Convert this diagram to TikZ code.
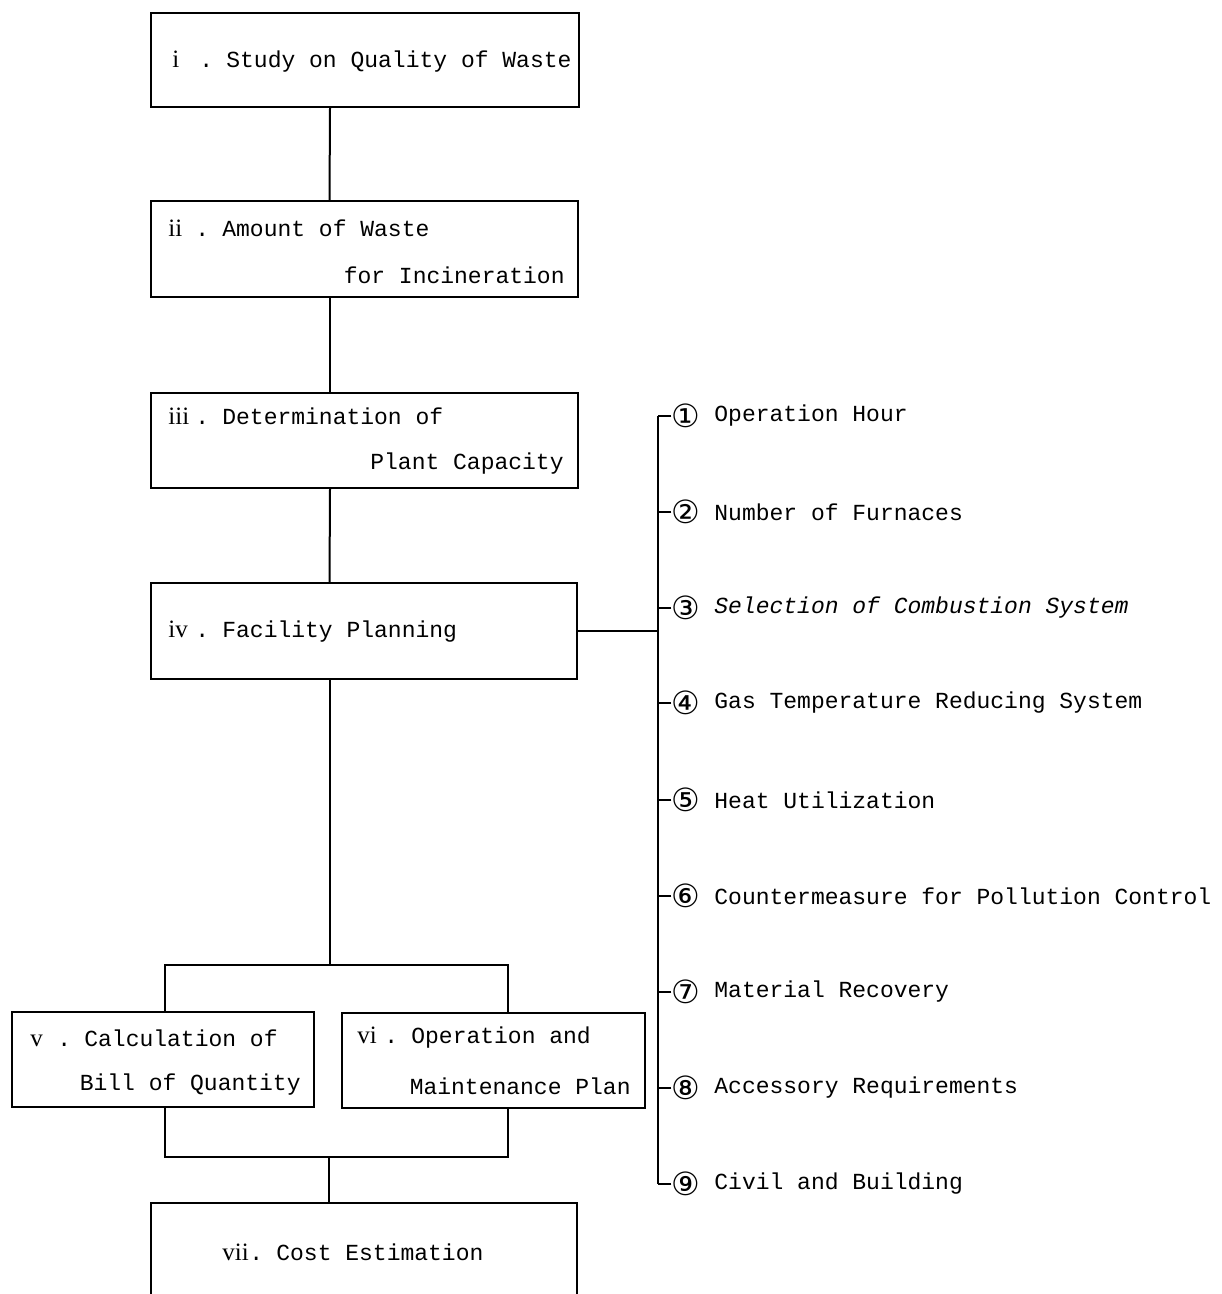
\documentclass[tikz,border=0pt]{standalone}
\usepackage{fontspec}
\newfontfamily\monof{Liberation Mono}
\newfontfamily\numf{Liberation Serif}
\newfontfamily\symf{DejaVu Sans}
\newcommand\rn[1]{\makebox[27pt][l]{\makebox[13.5pt][l]{\numf\fontsize{12.5}{13}\selectfont #1}.}}
\begin{document}
\begin{tikzpicture}[x=0.5pt,y=-0.5pt,
  box/.style={draw,line width=1pt,rectangle,inner sep=0pt},
  txt/.style={inner sep=0pt,font=\monof\fontsize{11.5}{13}\selectfont},
  circ/.style={inner sep=0pt,font=\symf\fontsize{16}{16}\selectfont},
  conn/.style={line width=1pt}]
\clip (0,0) rectangle (1221,1294);
\fill[white] (0,0) rectangle (1221,1294);
% boxes
\node[box,minimum width=214pt,minimum height=47pt] (b1) at (365,60) {};
\node[box,minimum width=213.5pt,minimum height=48pt] (b2) at (364.5,249) {};
\node[box,minimum width=213.5pt,minimum height=47.5pt] (b3) at (364.5,440.5) {};
\node[box,minimum width=213pt,minimum height=48pt] (b4) at (364,631) {};
\node[box,minimum width=151pt,minimum height=47.5pt] (b5) at (163,1059.5) {};
\node[box,minimum width=151.5pt,minimum height=47.5pt] (b6) at (493.5,1060.5) {};
\node[box,minimum width=213pt,minimum height=53.5pt] (b7) at (364,1256.5) {};
% texts
\node[txt,anchor=west] (t1) at (172,62) {\rn{i}Study on Quality of Waste};
\node[txt,anchor=west] (t2a) at (168,228) {\rn{ii}Amount of Waste};
\node[txt,anchor=east] (t2b) at (565,275) {for Incineration};
\node[txt,anchor=west] (t3a) at (168,416) {\rn{iii}Determination of};
\node[txt,anchor=east] (t3b) at (564,464) {Plant Capacity};
\node[txt,anchor=west] (t4) at (168,632) {\rn{iv}Facility Planning};
\node[txt,anchor=west] (t5a) at (30,1038) {\rn{v}Calculation of};
\node[txt,anchor=east] (t5b) at (301,1085) {Bill of Quantity};
\node[txt,anchor=west] (t6a) at (357,1038) {\rn{vi}Operation and};
\node[txt,anchor=east] (t6b) at (631,1086) {Maintenance Plan};
\node[txt,anchor=west] (t7) at (222,1252) {\rn{vii}Cost Estimation};
% main connectors
\draw[conn] ([xshift=-17.5pt]b1.south) -- ([xshift=-17.5pt]b2.north);
\draw[conn] ([xshift=-17.25pt]b2.south) -- ([xshift=-17.25pt]b3.north);
\draw[conn] ([xshift=-17.25pt]b3.south) -- ([xshift=-17.25pt]b4.north);
\coordinate (j1) at (330,965);
\coordinate (j2) at (329,1157);
\draw[conn] (b4.south -| j1) -- (j1);
\draw[conn] ([xshift=1pt]b5.north) |- (j1) -| ([xshift=7.25pt]b6.north);
\draw[conn] ([xshift=1pt]b5.south) |- (j2) -| ([xshift=7.25pt]b6.south);
\draw[conn] (j2) -- (b7.north -| j2);
% right side items
\coordinate (r) at (658,631);
\foreach \k/\y/\s/\t in {1/416/①/Operation Hour,
  2/512/②/Number of Furnaces,
  3/608/③/{\itshape Selection of Combustion System},
  4/703/④/Gas Temperature Reducing System,
  5/800/⑤/Heat Utilization,
  6/896/⑥/Countermeasure for Pollution Control,
  7/992/⑦/Material Recovery,
  8/1088/⑧/Accessory Requirements,
  9/1184/⑨/Civil and Building}{
  \node[circ] (n\k) at (686,\y) {\s};
  \node[txt,anchor=west] (m\k) at (714,\y) {\t};
  \draw[conn] (n\k.west) -- (n\k.west -| r);
}
\draw[conn] (n1.west -| r) -- (n9.west -| r);
\draw[conn] (b4.east) -- (r);
\end{tikzpicture}
\end{document}
